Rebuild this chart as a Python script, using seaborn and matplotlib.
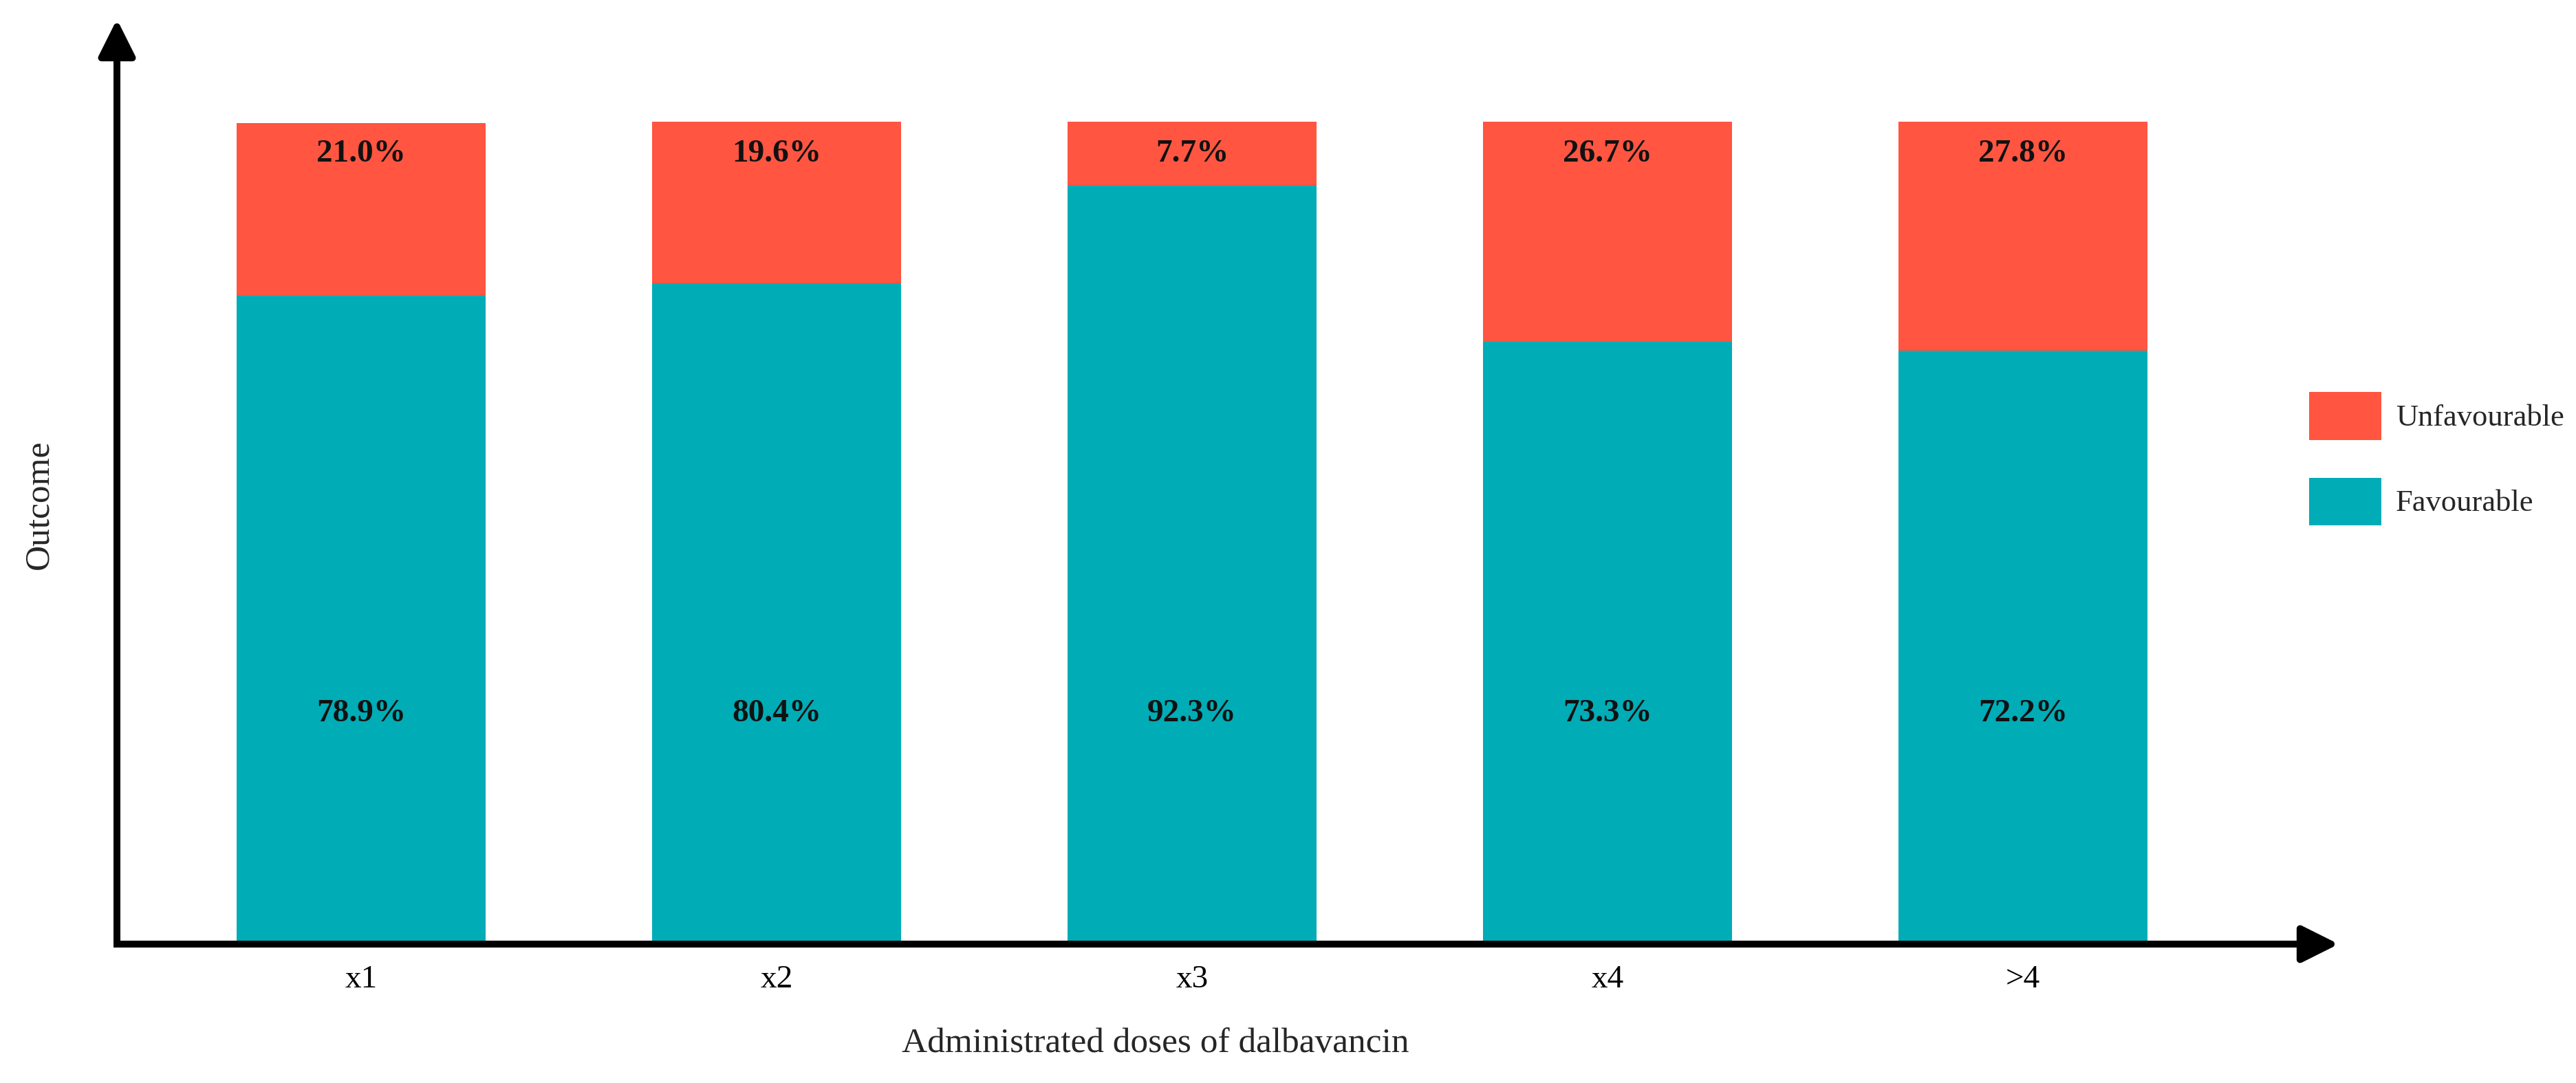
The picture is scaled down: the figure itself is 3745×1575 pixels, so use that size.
import matplotlib
matplotlib.use("Agg")
import matplotlib.pyplot as plt
import seaborn as sns
import pandas as pd
from matplotlib.patches import Patch

# ---- data ----
categories = ["x1", "x2", "x3", "x4", ">4"]
favourable = [78.9, 80.4, 92.3, 73.3, 72.2]
unfavourable = [21.0, 19.6, 7.7, 26.7, 27.8]
series_names = ["Unfavourable", "Favourable"]
x_title = "Administrated doses of dalbavancin"
y_title = "Outcome"

RED = "#FF5541"
TEAL = "#00ACB6"

sns.set_theme(style="white")
plt.rcParams["font.family"] = ["Liberation Serif", "DejaVu Serif"]

df = pd.DataFrame({
    "dose": categories,
    "favourable": favourable,
    "unfavourable": unfavourable,
})
df["total"] = df["favourable"] + df["unfavourable"]

fig = plt.figure(figsize=(37.45, 15.75), dpi=100)
ax = fig.add_axes([170 / 3745, 1 - 1373 / 1575, 3230 / 3745, 1345 / 1575])

sns.barplot(data=df, x="dose", y="total", order=categories, color=RED,
            saturation=1, width=0.6, linewidth=0, ax=ax)
sns.barplot(data=df, x="dose", y="favourable", order=categories, color=TEAL,
            saturation=1, width=0.6, linewidth=0, ax=ax)

XL = (-0.588, 4.760)
YL = (0, 112.5)
ax.set_xlim(*XL)
ax.set_ylim(*YL)

# value labels
for i, (f, u) in enumerate(zip(favourable, unfavourable)):
    ax.text(i, 96.1, f"{u:.1f}%", ha="center", va="center",
            fontsize=34, fontweight="bold", color="#111111")
    ax.text(i, 28.0, f"{f:.1f}%", ha="center", va="center",
            fontsize=34, fontweight="bold", color="#111111")

# axes styling: spines as arrow shafts
for name in ("top", "right"):
    ax.spines[name].set_visible(False)
for name in ("left", "bottom"):
    sp = ax.spines[name]
    sp.set_visible(True)
    sp.set_color("black")
    sp.set_linewidth(7.2)
    sp.set_capstyle("projecting")
ax.spines["bottom"].set_bounds(XL[0], XL[1] - 0.04)
ax.spines["left"].set_bounds(YL[0], YL[1] - 2.0)

ax.set_yticks([])
ax.tick_params(axis="x", length=0, pad=22, labelsize=34, colors="black")
ax.set_xlabel(x_title, fontsize=37, va="center")
ax.xaxis.set_label_coords(0.4675, -0.1078)
ax.set_ylabel(y_title, fontsize=37, va="center")
ax.yaxis.set_label_coords(-0.035, 0.475)

# arrow heads
arrow_kw = dict(arrowstyle="-|>,head_length=0.4,head_width=0.2", lw=7.2,
                color="black", mutation_scale=81, shrinkA=0, shrinkB=0)
ax.annotate("", xy=(1.0, 0.0), xytext=(0.97, 0.0), xycoords="axes fraction",
            textcoords="axes fraction", arrowprops=arrow_kw, annotation_clip=False)
ax.annotate("", xy=(0.0, 1.0), xytext=(0.0, 0.95), xycoords="axes fraction",
            textcoords="axes fraction", arrowprops=arrow_kw, annotation_clip=False)

# legend
handles = [Patch(facecolor=RED, edgecolor="none", label=series_names[0]),
           Patch(facecolor=TEAL, edgecolor="none", label=series_names[1])]
fig.legend(handles=handles, loc="upper left",
           bbox_to_anchor=(3357 / 3745, 1 - 570 / 1575),
           frameon=False, fontsize=32, handlelength=2.36, handleheight=2.03,
           labelspacing=1.24, handletextpad=0.47, borderpad=0, borderaxespad=0)

fig.savefig("out.png", dpi=100, facecolor="white")
